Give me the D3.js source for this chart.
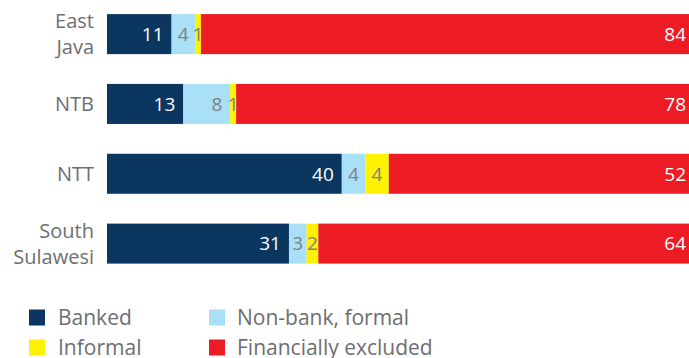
<!DOCTYPE html>
<html>
<head>
<meta charset="utf-8">
<script src="https://cdn.jsdelivr.net/npm/d3@7"></script>
<style>
  html, body { margin: 0; padding: 0; background: #fff; }
  svg { display: block; font-family: "Open Sans", "Noto Sans", sans-serif; }
</style>
</head>
<body>
<svg id="chart" width="689" height="358"></svg>
<script>
// Provinces (multi-line names split on "\n")
const regions = ["East\nJava", "NTB", "NTT", "South\nSulawesi"];

// Share of adults by access category, percent
const banked    = [11, 13, 40, 31];
const nonBank   = [4, 8, 4, 3];
const informal  = [1, 1, 4, 2];
const excluded  = [84, 78, 52, 64];

const seriesNames = ["Banked", "Non-bank, formal", "Informal", "Financially excluded"];
const seriesColors = ["#0a365f", "#aadff8", "#fff200", "#ed1c24"];
const labelColors = ["#ffffff", "#808080", "#808080", "#ffffff"];

const rows = regions.map((r, i) => ({
  region: r,
  "Banked": banked[i],
  "Non-bank, formal": nonBank[i],
  "Informal": informal[i],
  "Financially excluded": excluded[i]
}));

const svg = d3.select("#chart");

const x = d3.scaleLinear().domain([0, 100]).range([107, 694]);
const y = d3.scaleBand().domain(regions).range([14.1, 263.6]).paddingInner(0.427).paddingOuter(0);

const stacked = d3.stack().keys(seriesNames)(rows);

const layers = svg.append("g").selectAll("g")
  .data(stacked)
  .join("g")
  .attr("fill", (d, i) => seriesColors[i]);

layers.selectAll("rect")
  .data(d => d)
  .join("rect")
  .attr("x", d => x(d[0]))
  .attr("y", d => y(d.data.region))
  .attr("width", d => x(d[1]) - x(d[0]))
  .attr("height", y.bandwidth());

// Value labels, right-aligned inside each segment; centred when the segment is narrow
layers.each(function (layer, li) {
  d3.select(this).selectAll("text")
    .data(layer)
    .join("text")
    .attr("x", d => {
      const w = x(d[1]) - x(d[0]);
      return w < 24 ? (x(d[0]) + x(d[1])) / 2 : x(d[1]) - 8;
    })
    .attr("text-anchor", d => (x(d[1]) - x(d[0]) < 24 ? "middle" : "end"))
    .attr("y", d => y(d.data.region) + y.bandwidth() / 2)
    .attr("dy", "0.36em")
    .attr("font-size", 19)
    .attr("fill", labelColors[li])
    .text(d => d[1] - d[0]);
});

// Category labels on the left
const catG = svg.append("g");
regions.forEach(r => {
  const lines = r.split("\n");
  const cy = y(r) + y.bandwidth() / 2;
  const lh = 26;
  const first = lines.length === 1 ? cy + 7.4 : cy - 6;
  const t = catG.append("text")
    .attr("text-anchor", "end")
    .attr("font-size", 20)
    .attr("fill", "#6d6e71");
  lines.forEach((ln, k) => {
    t.append("tspan").attr("x", 94).attr("y", first + k * lh).text(ln);
  });
});

// Legend, two columns
const legendCols = d3.scaleOrdinal().domain([0, 1]).range([29, 209]);
const legendRows = d3.scaleOrdinal().domain([0, 1]).range([309.5, 339.5]);
const legend = svg.append("g").selectAll("g")
  .data(seriesNames)
  .join("g")
  .attr("transform", (d, i) => `translate(${legendCols(i % 2)},${legendRows(Math.floor(i / 2))})`);

legend.append("rect")
  .attr("width", 16)
  .attr("height", 16)
  .attr("fill", (d, i) => seriesColors[i]);

legend.append("text")
  .attr("x", (d, i) => (i % 2 === 0 ? 29 : 28))
  .attr("y", 15.5)
  .attr("font-size", 21)
  .attr("fill", "#6d6e71")
  .text(d => d);
</script>
</body>
</html>
